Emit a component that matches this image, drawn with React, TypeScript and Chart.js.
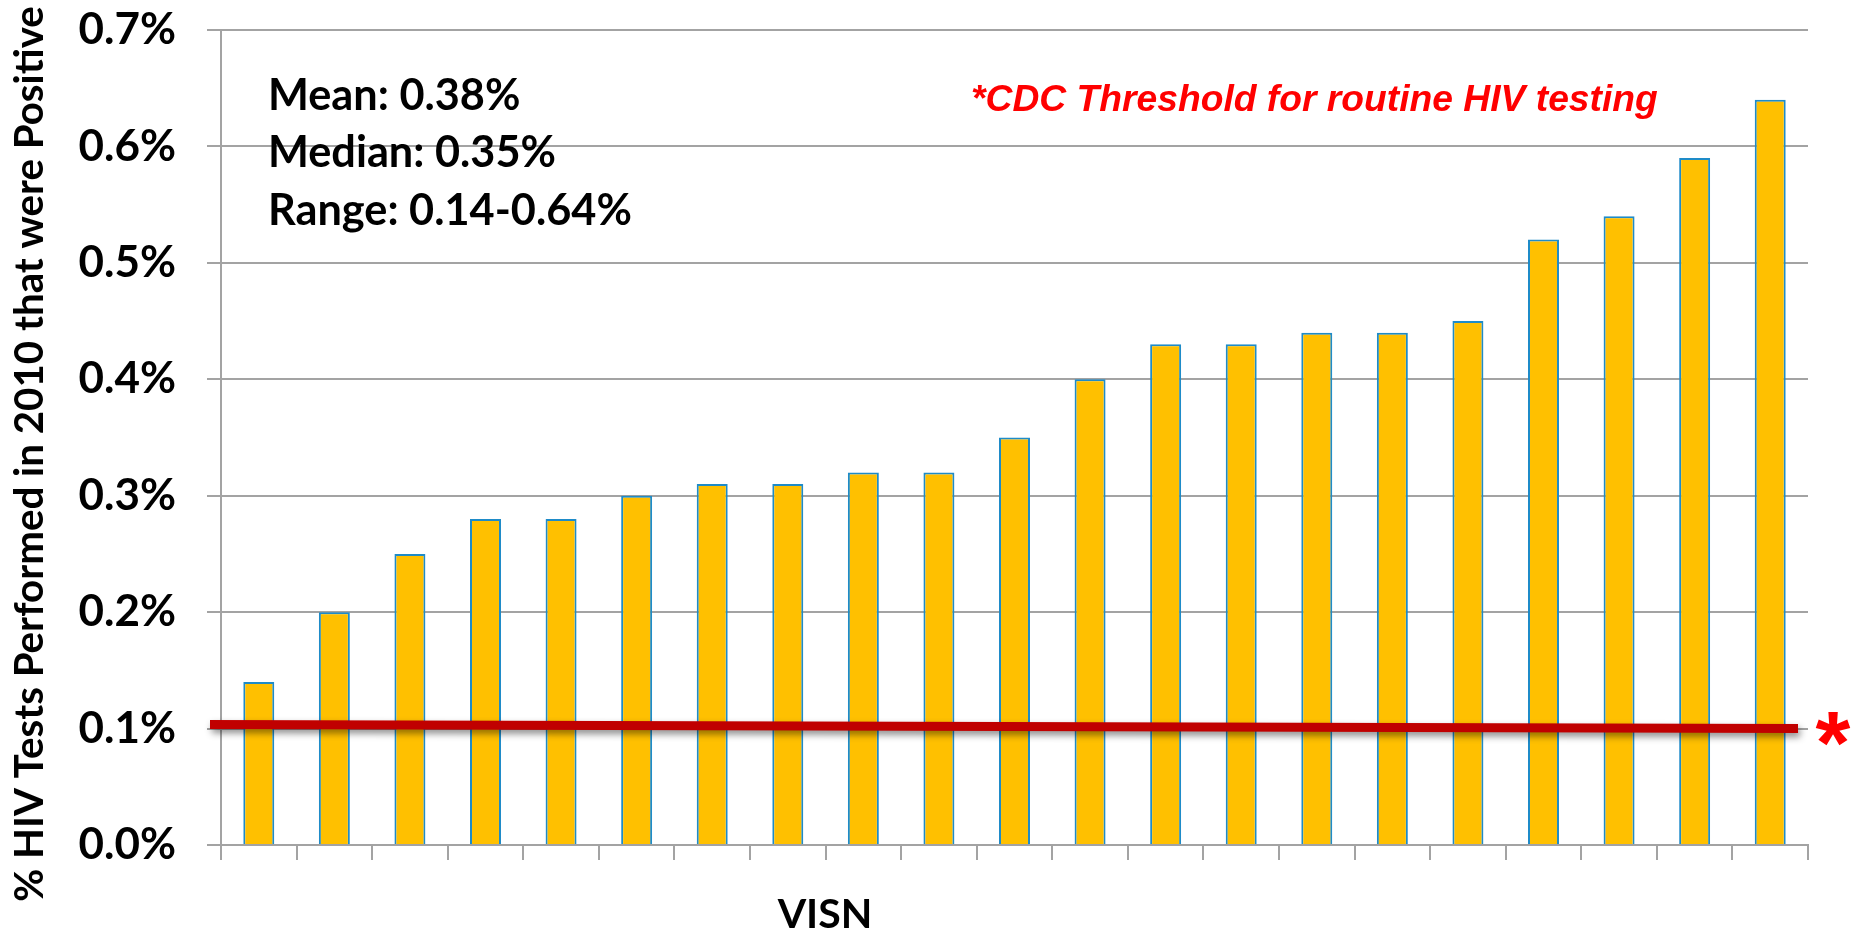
import React, { useEffect, useRef } from "react";
import { Chart, registerables } from "chart.js";

Chart.register(...registerables);

// ---- Data ----
const visnLabels = [
  "1", "2", "3", "4", "5", "6", "7", "8", "9", "10", "11",
  "12", "13", "14", "15", "16", "17", "18", "19", "20", "21",
];
const positivePct = [
  0.14, 0.2, 0.25, 0.28, 0.28, 0.3, 0.31, 0.31, 0.32, 0.32, 0.35,
  0.4, 0.43, 0.43, 0.44, 0.44, 0.45, 0.52, 0.54, 0.59, 0.64,
];
const yTickValues = [0, 0.1, 0.2, 0.3, 0.4, 0.5, 0.6, 0.7];
const thresholdStart = 0.1035;
const thresholdEnd = 0.1;
const statsLines = ["Mean: 0.38%", "Median: 0.35%", "Range: 0.14-0.64%"];
const cdcNote = "*CDC Threshold for routine HIV testing";
const thresholdMark = "*";
const xTitle = "VISN";
const yTitle = "% HIV Tests Performed in 2010 that were Positive";

const W = 1853;
const H = 933;
const GRID = "#a3a3a3";
const BOLD_SANS = "Lato, 'Open Sans', sans-serif";

function fitFont(ctx: CanvasRenderingContext2D, text: string, style: string, family: string, target: number) {
  ctx.font = `${style} 100px ${family}`;
  const w = ctx.measureText(text).width;
  return (100 * target) / w;
}

const overlayPlugin = {
  id: "overlay",
  afterDatasetsDraw(chart: any) {
    const { ctx, chartArea, scales } = chart;
    const y = scales.y;
    const x0 = chartArea.left - 11;
    const x1 = chartArea.right - 10;
    const y0 = y.getPixelForValue(thresholdStart);
    const y1 = y.getPixelForValue(thresholdEnd);
    ctx.save();
    ctx.shadowColor = "rgba(0,0,0,0.45)";
    ctx.shadowBlur = 7;
    ctx.shadowOffsetX = 2;
    ctx.shadowOffsetY = 4;
    ctx.strokeStyle = "#c00000";
    ctx.lineWidth = 9;
    ctx.lineCap = "butt";
    ctx.beginPath();
    ctx.moveTo(x0, y0);
    ctx.lineTo(x1, y1);
    ctx.stroke();
    ctx.restore();
  },
  afterDraw(chart: any) {
    const { ctx, chartArea, scales } = chart;
    const y = scales.y;
    ctx.save();

    // statistics block
    ctx.fillStyle = "#000";
    ctx.textAlign = "left";
    ctx.textBaseline = "alphabetic";
    const statSize = fitFont(ctx, statsLines[2], "bold", BOLD_SANS, 364);
    ctx.font = `bold ${statSize}px ${BOLD_SANS}`;
    const statBase = [110, 167, 225];
    statsLines.forEach((t, i) => ctx.fillText(t, chartArea.left + 47, statBase[i]));

    // CDC note
    const noteSize = fitFont(ctx, cdcNote, "italic bold", "'Liberation Sans', Arial, sans-serif", 687);
    ctx.font = `italic bold ${noteSize}px 'Liberation Sans', Arial, sans-serif`;
    ctx.fillStyle = "#ff0000";
    ctx.fillText(cdcNote, 971, 111);

    // big asterisk at threshold end
    ctx.font = `bold 100px 'Liberation Sans', Arial, sans-serif`;
    let m = ctx.measureText(thresholdMark);
    const inkH = m.actualBoundingBoxAscent + m.actualBoundingBoxDescent;
    const size = (100 * 34) / inkH;
    ctx.font = `bold ${size}px 'Liberation Sans', Arial, sans-serif`;
    m = ctx.measureText(thresholdMark);
    const yc = y.getPixelForValue(thresholdEnd);
    const base = yc + (m.actualBoundingBoxAscent - m.actualBoundingBoxDescent) / 2;
    ctx.textAlign = "center";
    ctx.fillText(thresholdMark, chartArea.right + 25, base);

    // x title
    ctx.fillStyle = "#000";
    ctx.font = `bold 41px ${BOLD_SANS}`;
    ctx.textAlign = "center";
    ctx.fillText(xTitle, 825, 928);

    // y title
    const ySize = fitFont(ctx, yTitle, "bold", BOLD_SANS, 896);
    ctx.font = `bold ${ySize}px ${BOLD_SANS}`;
    ctx.translate(43, 454);
    ctx.rotate(-Math.PI / 2);
    ctx.textAlign = "center";
    ctx.fillText(yTitle, 0, 0);
    ctx.restore();
  },
};

export default function App() {
  const ref = useRef<HTMLCanvasElement | null>(null);
  useEffect(() => {
    if (!ref.current) return;
    const chart = new Chart(ref.current, {
      type: "bar",
      data: {
        labels: visnLabels,
        datasets: [
          {
            label: "% positive",
            data: positivePct,
            backgroundColor: "#ffc000",
            borderColor: "#1e8bc8",
            borderWidth: 2,
            barPercentage: 0.41,
            categoryPercentage: 1,
          },
        ],
      },
      options: {
        animation: false,
        responsive: false,
        devicePixelRatio: 1,
        layout: { padding: { left: 0, right: 45, top: 30, bottom: 0 } },
        plugins: { legend: { display: false }, tooltip: { enabled: false }, title: { display: false } },
        scales: {
          x: {
            grid: {
              display: true,
              drawOnChartArea: false,
              drawTicks: true,
              tickLength: 15,
              color: GRID,
              lineWidth: 2,
              offset: true,
            },
            border: { display: true, color: GRID, width: 2 },
            ticks: { display: false },
            afterFit: (s: any) => {
              s.height = 88;
              s.paddingLeft = 0;
              s.paddingRight = 0;
            },
          },
          y: {
            min: 0,
            max: 0.7,
            afterBuildTicks: (s: any) => {
              s.ticks = yTickValues.map((v) => ({ value: v }));
            },
            ticks: {
              color: "#000",
              padding: 31,
              font: { family: BOLD_SANS, weight: "bold", size: 44 },
              callback: (v: any) => `${Number(v).toFixed(1)}%`,
            },
            grid: { color: GRID, lineWidth: 2, tickLength: 14 },
            border: { display: true, color: GRID, width: 2 },
            afterFit: (s: any) => {
              s.width = 221;
              s.paddingTop = 0;
              s.paddingBottom = 0;
            },
          },
        },
      },
      plugins: [overlayPlugin],
    });
    return () => chart.destroy();
  }, []);
  return (
    <div style={{ position: "fixed", left: 0, top: 0, width: W, height: H, background: "#fff" }}>
      <canvas ref={ref} width={W} height={H} style={{ width: W, height: H, display: "block" }} />
    </div>
  );
}
